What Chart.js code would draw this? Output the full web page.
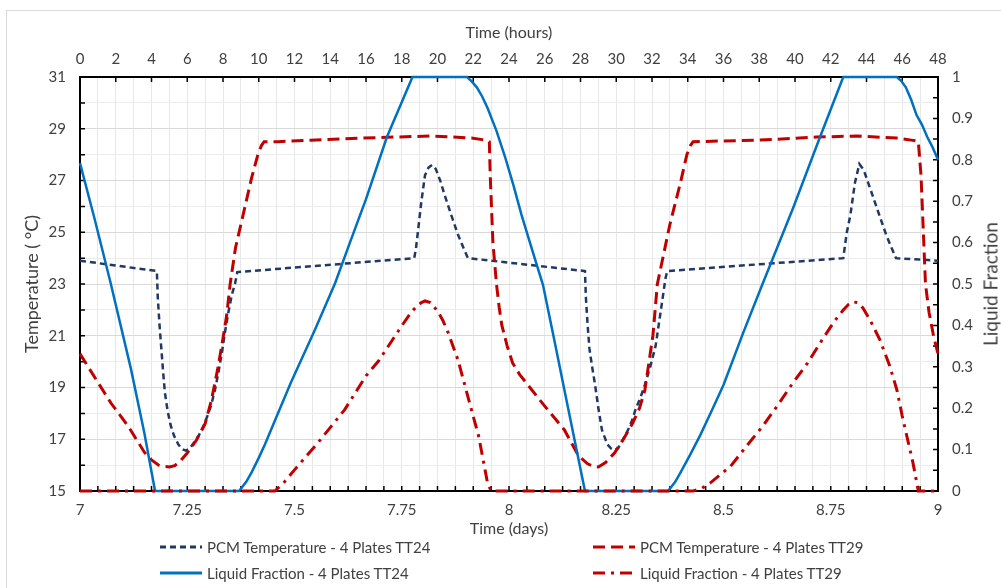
<!DOCTYPE html>
<html>
<head>
<meta charset="utf-8" />
<script src="https://cdn.jsdelivr.net/npm/chart.js@4"></script>
<style>
  body { margin: 0; background: #fff; font-family: Lato, sans-serif; }
  #wrap { position: relative; width: 1001px; height: 588px; overflow: hidden; }
  #frame { position: absolute; left: 6px; top: 10px; width: 1200px; height: 800px; border: 1px solid #d9d9d9; }
  canvas { position: absolute; left: 0; top: 0; }
  .leg { position: absolute; height: 20px; display: flex; align-items: center; font-size: 15px; color: #404040; white-space: nowrap; }
  .leg svg { margin-right: 5px; }
  #rtitle { position: absolute; left: 990px; top: 284px; transform: translate(-50%, -50%) rotate(-90deg); font-size: 19px; color: #404040; white-space: nowrap; }
</style>
</head>
<body>
<div id="wrap">
  <div id="frame"></div>
  <canvas id="chart" width="1001" height="588"></canvas>
  <div id="rtitle">Liquid Fraction</div>
  <div class="leg" style="left:160px;top:537px"><svg width="42" height="4"><line x1="0" y1="2" x2="42" y2="2" stroke="#203864" stroke-width="3" stroke-dasharray="6 4"/></svg>PCM Temperature - 4 Plates TT24</div>
  <div class="leg" style="left:593px;top:537px"><svg width="42" height="4"><line x1="0" y1="2" x2="42" y2="2" stroke="#c00000" stroke-width="3" stroke-dasharray="12 6"/></svg>PCM Temperature - 4 Plates TT29</div>
  <div class="leg" style="left:160px;top:563px"><svg width="42" height="4"><line x1="0" y1="2" x2="42" y2="2" stroke="#0070c0" stroke-width="3"/></svg>Liquid Fraction - 4 Plates TT24</div>
  <div class="leg" style="left:593px;top:563px"><svg width="42" height="4"><line x1="0" y1="2" x2="42" y2="2" stroke="#c00000" stroke-width="3" stroke-dasharray="12 6 3 6"/></svg>Liquid Fraction - 4 Plates TT29</div>
</div>

<script>
// time in hours (top axis), 0 h = day 7
const pcm24Hours = [0, 4.3, 4.35, 4.45, 4.55, 4.65, 4.75, 4.9, 5.05, 5.25, 5.5, 5.7, 5.93, 6.15, 6.4, 6.65, 6.9, 7.1, 7.33, 7.55, 7.75, 7.95, 8.1, 8.3, 8.5, 8.67, 8.8, 18.7, 18.8, 18.9, 19.1, 19.3, 19.5, 19.7, 19.9, 20.15, 20.4, 20.8, 21.15, 21.45, 21.7, 28.25, 28.3, 28.4, 28.5, 28.65, 28.8, 29.0, 29.2, 29.5, 29.7, 29.9, 30.1, 30.3, 30.5, 30.66, 30.9, 31.1, 31.35, 31.6, 31.9, 32.2, 32.5, 32.75, 32.85, 42.7, 42.8, 42.9, 43.1, 43.35, 43.6, 43.85, 44.1, 44.4, 44.75, 45.1, 45.4, 45.65, 48];
const pcm24Temp  = [23.9, 23.5, 22.5, 21.4, 20.5, 19.6, 18.8, 18.1, 17.6, 17.15, 16.8, 16.62, 16.56, 16.65, 16.9, 17.15, 17.5, 17.85, 18.3, 18.9, 19.6, 20.4, 21.1, 21.9, 22.6, 23.0, 23.46, 24.0, 24.4, 25.0, 26.2, 27.2, 27.5, 27.6, 27.45, 27.0, 26.44, 25.6, 24.9, 24.4, 24.0, 23.5, 22.5, 21.4, 20.5, 19.8, 19.17, 18.2, 17.36, 16.8, 16.65, 16.58, 16.65, 16.9, 17.15, 17.36, 17.75, 18.2, 18.6, 19.1, 19.8, 20.6, 22.0, 23.2, 23.5, 24.0, 24.5, 25.0, 25.67, 26.9, 27.64, 27.4, 26.9, 26.3, 25.6, 24.9, 24.4, 24.0, 23.9];

const pcm29Hours = [0, 1, 1.73, 2.7, 3.6, 4.0, 4.4, 4.7, 5.0, 5.3, 5.6, 6.0, 6.5, 7.0, 7.35, 7.7, 8.0, 8.2, 8.4, 8.7, 9.2, 9.6, 9.95, 10.15, 10.3, 11.1, 12.9, 15.7, 19.7, 21.9, 22.5, 22.8, 22.9, 22.95, 23.1, 23.3, 23.45, 23.6, 23.9, 24.2, 24.6, 25.1, 26.0, 27.1, 27.9, 28.4, 28.7, 29.0, 29.4, 29.9, 30.4, 30.9, 31.3, 31.6, 32.05, 32.3, 33.0, 33.6, 33.95, 34.15, 34.3, 38, 41.2, 43.5, 45.7, 46.5, 46.8, 46.9, 47.05, 47.3, 47.5, 47.75, 48];
const pcm29Temp  = [20.3, 19.2, 18.4, 17.5, 16.5, 16.2, 16.0, 15.95, 15.93, 15.98, 16.15, 16.47, 16.95, 17.6, 18.5, 19.7, 20.9, 21.76, 23.0, 24.4, 25.9, 27.1, 28.0, 28.35, 28.5, 28.5, 28.56, 28.64, 28.72, 28.64, 28.58, 28.54, 28.5, 27.2, 24.6, 23.0, 22.1, 21.4, 20.6, 19.95, 19.5, 19.06, 18.28, 17.36, 16.35, 16.05, 15.96, 15.93, 16.1, 16.47, 17.0, 17.6, 18.2, 18.9, 21.0, 23.0, 25.3, 26.94, 28.0, 28.35, 28.5, 28.56, 28.68, 28.72, 28.64, 28.56, 28.53, 28.5, 27.2, 23.0, 21.9, 21.0, 20.3];

const lf24Hours = [0, 0.8, 1.7, 2.85, 3.6, 4.2, 8.9, 9.3, 9.6, 10.0, 10.35, 11.0, 11.8, 13.15, 14.27, 15.1, 16.0, 17.17, 18.6, 21.65, 21.9, 22.2, 22.5, 22.8, 23.3, 23.8, 24.25, 24.7, 25.3, 25.9, 26.5, 27.1, 28.25, 32.9, 33.3, 33.6, 34.1, 34.7, 35.3, 36.0, 37.1, 38.2, 39.9, 41.4, 42.7, 45.7, 45.95, 46.2, 46.5, 46.8, 47.1, 47.4, 47.7, 48];
const lf24Frac  = [0.792, 0.66, 0.505, 0.295, 0.14, 0, 0, 0.022, 0.045, 0.08, 0.113, 0.18, 0.262, 0.39, 0.502, 0.6, 0.705, 0.855, 1, 1, 0.99, 0.975, 0.953, 0.925, 0.87, 0.804, 0.738, 0.667, 0.582, 0.498, 0.372, 0.244, 0, 0, 0.022, 0.045, 0.085, 0.135, 0.19, 0.256, 0.382, 0.502, 0.684, 0.855, 1, 1, 0.99, 0.975, 0.945, 0.908, 0.885, 0.855, 0.83, 0.80];

const lf29Hours = [0, 10.9, 11.4, 12.0, 13.3, 14.8, 16.0, 16.7, 18.0, 18.5, 18.85, 19.1, 19.3, 19.6, 20.0, 20.3, 20.6, 21.15, 21.9, 22.3, 22.8, 23.0, 34.3, 34.8, 35.25, 36.4, 37.3, 38.2, 39.0, 39.8, 40.7, 41.4, 42.2, 42.7, 43.0, 43.2, 43.5, 43.8, 44.2, 44.75, 45.3, 45.7, 46.0, 46.6, 46.9, 48];
const lf29Frac  = [0, 0, 0.02, 0.051, 0.116, 0.196, 0.278, 0.314, 0.399, 0.43, 0.447, 0.455, 0.459, 0.455, 0.435, 0.412, 0.382, 0.316, 0.196, 0.133, 0.019, 0, 0, 0.007, 0.019, 0.06, 0.109, 0.157, 0.205, 0.256, 0.309, 0.357, 0.41, 0.437, 0.451, 0.457, 0.455, 0.442, 0.413, 0.365, 0.302, 0.244, 0.181, 0.068, 0, 0];

const toPoints = (xs, ys) => xs.map((h, i) => ({ x: h, y: ys[i] }));

const txt = '#404040';
const tickFont = { family: 'Lato', size: 15 };
const titleFont = { family: 'Lato', size: 16 };

// small inward tick marks like the original
const innerTicks = {
  id: 'innerTicks',
  beforeDatasetsDraw(chart) {
    const { ctx, chartArea: a, scales } = chart;
    ctx.save();
    ctx.strokeStyle = '#000';
    ctx.lineWidth = 1.5;
    ctx.beginPath();
    for (let h = 0; h <= 48; h += 2) {
      const x = scales.xh.getPixelForValue(h);
      ctx.moveTo(x, a.top); ctx.lineTo(x, a.top + 5);
    }
    for (let h = 0; h <= 48; h++) {
      const x = scales.xh.getPixelForValue(h);
      ctx.moveTo(x, a.bottom); ctx.lineTo(x, a.bottom - 5);
    }
    for (let t = 15; t <= 31; t++) {
      const y = scales.y.getPixelForValue(t);
      ctx.moveTo(a.left, y); ctx.lineTo(a.left + 5, y);
    }
    for (let i = 0; i <= 20; i++) {
      const y = scales.y2.getPixelForValue(i / 20);
      ctx.moveTo(a.right, y); ctx.lineTo(a.right - 5, y);
    }
    ctx.stroke();
    ctx.restore();
  }
};

new Chart(document.getElementById('chart'), {
  type: 'line',
  data: {
    datasets: [
      {
        label: 'PCM Temperature - 4 Plates TT24',
        data: toPoints(pcm24Hours, pcm24Temp),
        xAxisID: 'xh', yAxisID: 'y',
        borderColor: '#203864', borderWidth: 2.5, borderDash: [6, 4],
        pointRadius: 0, tension: 0, clip: false, order: 4
      },
      {
        label: 'PCM Temperature - 4 Plates TT29',
        data: toPoints(pcm29Hours, pcm29Temp),
        xAxisID: 'xh', yAxisID: 'y',
        borderColor: '#c00000', borderWidth: 3, borderDash: [12, 6],
        pointRadius: 0, tension: 0, clip: false, order: 3
      },
      {
        label: 'Liquid Fraction - 4 Plates TT24',
        data: toPoints(lf24Hours, lf24Frac),
        xAxisID: 'xh', yAxisID: 'y2',
        borderColor: '#0070c0', borderWidth: 2.5,
        pointRadius: 0, tension: 0, clip: false, order: 2
      },
      {
        label: 'Liquid Fraction - 4 Plates TT29',
        data: toPoints(lf29Hours, lf29Frac),
        xAxisID: 'xh', yAxisID: 'y2',
        borderColor: '#c00000', borderWidth: 3, borderDash: [12, 6, 3, 6],
        pointRadius: 0, tension: 0, clip: false, order: 1
      }
    ]
  },
  options: {
    responsive: false,
    animation: false,
    devicePixelRatio: 1,
    layout: { padding: { left: 10, top: 10, right: 0, bottom: 50 } },
    plugins: { legend: { display: false }, tooltip: { enabled: false } },
    scales: {
      xh: {
        type: 'linear', position: 'top', min: 0, max: 48,
        ticks: { stepSize: 1, autoSkip: false, maxRotation: 0, padding: 9, color: txt, font: tickFont,
                 callback: v => v % 2 === 0 ? v : '' },
        grid: { color: '#e8e8e8', drawTicks: false },
        border: { color: '#000', width: 2 },
        title: { display: true, text: 'Time (hours)', color: txt, font: titleFont, padding: { top: 13, bottom: 0 } },
        afterFit: s => { s.height = 67; }
      },
      xd: {
        type: 'linear', position: 'bottom', min: 7, max: 9,
        ticks: { stepSize: 0.25, autoSkip: false, maxRotation: 0, padding: 10, color: txt, font: tickFont,
                 callback: v => String(+v.toFixed(2)) },
        grid: { drawOnChartArea: false, drawTicks: false },
        border: { color: '#000', width: 2 },
        title: { display: true, text: 'Time (days)', color: txt, font: titleFont, padding: { top: 0, bottom: 0 } },
        afterFit: s => { s.height = 47; }
      },
      y: {
        type: 'linear', position: 'left', min: 15, max: 31,
        ticks: { stepSize: 1, autoSkip: false, padding: 14, color: txt, font: tickFont,
                 callback: v => v % 2 === 1 ? v : '' },
        grid: { color: c => c.tick && c.tick.value % 2 === 1 ? '#d9d9d9' : '#ececec', drawTicks: false },
        border: { color: '#000', width: 2 },
        title: { display: true, text: 'Temperature ( °C)', color: txt, font: { family: 'Lato', size: 18 }, padding: { top: 11, bottom: 0 } },
        afterFit: s => { s.width = 70; }
      },
      y2: {
        type: 'linear', position: 'right', min: 0, max: 1,
        ticks: { stepSize: 0.05, autoSkip: false, padding: 14, color: txt, font: tickFont,
                 callback: v => Math.round(v * 100) % 10 === 0 ? String(+v.toFixed(1)) : '' },
        grid: { drawOnChartArea: false, drawTicks: false },
        border: { color: '#000', width: 2 },
        afterFit: s => { s.width = 63; }
      }
    }
  },
  plugins: [innerTicks]
});
</script>
</body>
</html>
